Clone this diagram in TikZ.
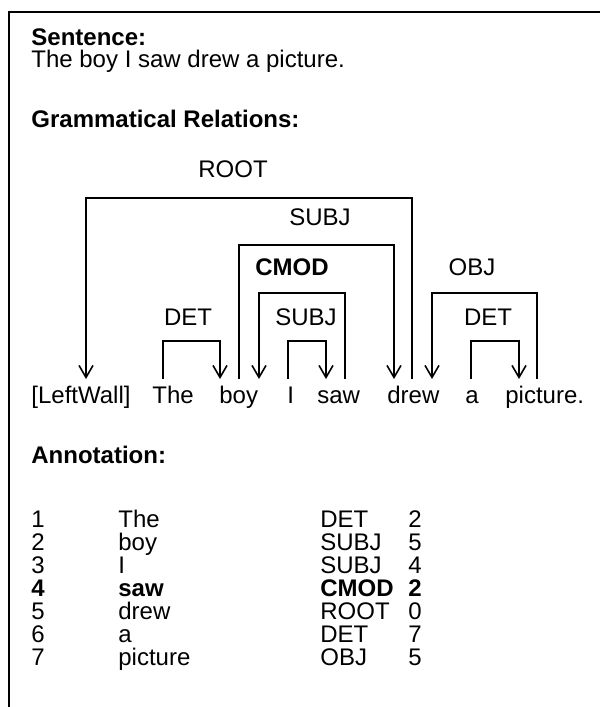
\documentclass[tikz,border=0pt]{standalone}
\usepackage{fontspec}
\setmainfont{Liberation Sans}
\usetikzlibrary{arrows.meta}

\begin{document}
\begin{tikzpicture}[
  x=0.5pt, y=-0.5pt,
  every node/.style={inner sep=0pt, anchor=base west, font=\fontsize{12}{14}\selectfont},
  cell/.style={},
  heading/.style={font=\fontsize{12}{14}\selectfont\bfseries},
  rel/.style={anchor=base},
  dep/.style={line width=0.8pt, -{Straight Barb[length=6pt,width=7pt,line width=0.8pt]}}
]
  \useasboundingbox (0,0) rectangle (600,707);
  \draw[line width=1pt] (9,707) -- (9,12) -- (600,12);

  \node[heading] (hsent) at (31,45) {Sentence:};
  \node (sent) at (31,67) {The boy I saw drew a picture.};
  \node[heading] (hrel) at (31,127) {Grammatical Relations:};

  % words
  \foreach \n/\x/\w in {lw/31/{[LeftWall]}, the/152/The, boy/219/boy, i/287/I,
      saw/317/saw, drew/387/drew, a/465/a, pic/505/picture.}
    \node (\n) at (\x,403) {\w};

  % feet of the links
  \foreach \n/\x in {fLW/86, fThe/163, fBoyA/220, fBoyB/239, fBoyC/259, fI/288,
      fSawA/326, fSawB/345, fDrewA/394, fDrewB/412, fDrewC/432, fA/471,
      fPicA/519, fPicB/537}
    \coordinate (\n) at (\x,379);

  \draw[dep] (fDrewB) -- ++(0,-181) -| (fLW);
  \draw[dep] (fBoyB) -- ++(0,-134) -| (fDrewA);
  \draw[dep] (fSawB) -- ++(0,-86) -| (fBoyC);
  \draw[dep] (fPicB) -- ++(0,-86) -| (fDrewC);
  \draw[dep] (fThe) -- ++(0,-38) -| (fBoyA);
  \draw[dep] (fI) -- ++(0,-38) -| (fSawA);
  \draw[dep] (fA) -- ++(0,-38) -| (fPicA);

  \node[rel] (lRoot) at (233,177) {ROOT};
  \node[rel] (lSubj) at (320,225) {SUBJ};
  \node[rel,heading] (lCmod) at (292,275) {CMOD};
  \node[rel] (lObj) at (472,275) {OBJ};
  \node[rel] (lDetA) at (188,325) {DET};
  \node[rel] (lSubjB) at (306,325) {SUBJ};
  \node[rel] (lDetB) at (488,325) {DET};

  % annotation table
  \node[heading] (hann) at (31,463) {Annotation:};
  \foreach \w/\t/\h/\s [count=\k] in {The/DET/2/cell, boy/SUBJ/5/cell,
      I/SUBJ/4/cell, saw/CMOD/2/heading, drew/ROOT/0/cell, a/DET/7/cell,
      picture/OBJ/5/cell} {
    \node[\s] (num\k) at (31,{504+23*\k}) {\k};
    \node[\s] (word\k) at (118,{504+23*\k}) {\w};
    \node[\s] (tag\k) at (320,{504+23*\k}) {\t};
    \node[\s] (head\k) at (408,{504+23*\k}) {\h};
  }
\end{tikzpicture}
\end{document}
